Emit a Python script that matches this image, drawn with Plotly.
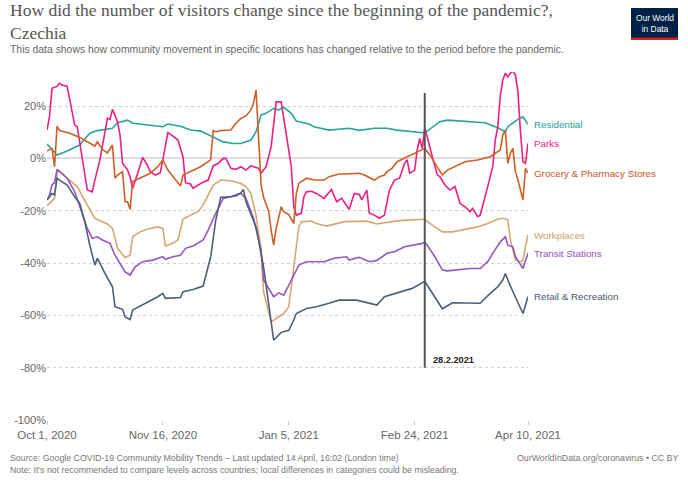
import pandas as pd
import plotly.graph_objects as go

START = pd.Timestamp("2020-10-01")

# ---- data (days since Oct 1, 2020 ; % change vs baseline) ----
residential_days = [0,4,8,13,17,20,26,28,32,34,46,48,53,57,61,66,70,74,77,81,
                    83,85,87,90,92,94,97,99,104,106,112,120,124,130,135,139,144,149,151,156,
                    159,168,174,179,182,183,187,189,190,191]
residential_vals = [5.5,1.3,2.8,5.1,9.6,10.6,11.5,13.6,14.6,13.4,12.1,13.1,12.3,10.8,10.4,8.0,6.3,5.7,5.7,7.0,
                    10.2,16.6,17.2,19.1,18.5,19.5,17.2,14.3,13.1,12.1,10.8,11.5,10.7,11.5,11.5,10.8,10.4,9.8,10.4,14.0,
                    14.6,14.0,13.6,11.7,10.2,12.1,14.9,15.9,14.4,13.0]

parks_days = [0,1,2,4,5,6,8,9,11,12,14,16,18,19,21,24,25,26,28,29,
              30,32,33,34,36,38,40,41,43,45,46,48,50,52,54,55,57,58,61,64,
              66,68,70,71,73,75,77,79,81,84,85,87,89,91,93,94,95,97,98,99,
              101,102,103,105,107,110,113,115,117,120,122,124,125,127,128,130,132,134,136,138,
              140,142,143,144,146,147,148,149,150,151,153,155,156,158,160,162,164,166,168,169,
              171,172,175,177,178,179,180,181,182,183,184,185,186,187,188,189,190,191]
parks_vals = [10.8,15.9,26.8,27.5,28.7,28.0,27.6,22.3,12.7,12.1,0.6,-12.1,-12.8,-8.3,-0.7,15.3,14.9,18.7,14.0,8.9,
              -1.9,-4.5,-7.0,-11.5,-5.7,0.4,-2.9,-5.1,-6.4,-5.5,-0.6,9.8,8.5,7.0,0.6,-9.3,-9.8,-11.5,-9.6,-8.3,
              -2.9,-1.9,0,0,-3.8,-4.2,-3.2,-4.5,-2.9,-3.8,-5.7,-3.2,4.4,21.6,21.6,15.3,10.2,-3.2,-18.5,-21.7,
              -21.0,-14.7,-12.8,-12.6,-13.4,-15.3,-11.9,-16.6,-15.3,-19.5,-13.4,-13.8,-15.9,-12.1,-21.0,-21.7,-22.9,-21.7,-12.1,-8.3,
              -7.6,-1.9,-0.5,-5.7,-4.5,3.2,7.6,3.8,11.5,8.3,0.6,-6.4,-7.0,-10.2,-12.1,-10.8,-17.2,-18.5,-20.4,-19.1,
              -22.3,-21.7,-10.8,-3.2,7.0,12,24,30.0,32.5,31.2,32.5,33.4,31.8,25.5,10.2,-1.3,-1.9,5.7]

grocery_days = [0,1,2,3,4,5,9,13,17,19,20,22,24,26,27,28,30,31,32,33,
                34,37,41,44,46,48,50,53,54,57,61,65,66,67,69,73,75,77,79,81,
                82,83,84,85,86,88,89,90,91,93,94,96,98,99,100,103,106,110,112,116,
                119,124,126,130,132,134,135,137,139,143,146,149,150,152,154,157,159,163,166,171,
                176,180,181,182,183,184,185,186,187,189,190,191]
grocery_vals = [2.9,3.5,3.8,-3.2,12.3,10.6,9.6,8.0,5.7,4.7,6.3,3.4,2.1,5.1,-7.6,-6.4,-5.1,-16.6,-16.6,-19.5,
                -8.9,-7.6,-5.7,-3.2,-0.6,-4.5,-7.0,-10.6,-6.4,-5.1,-3.2,-0.6,10.6,10.2,10.6,10.8,13.4,15.3,16.2,18.5,
                21.0,26.1,8.0,-10.0,-15.0,-20.0,-27.4,-33.2,-26.8,-18.5,-20.4,-21.5,-24.9,-13.4,-9.6,-7.6,-8.3,-8.3,-7.0,-6.0,
                -6.0,-5.7,-6.4,-8.3,-7.0,-6.4,-5.1,-3.8,-1.3,0.6,1.9,3.2,3.8,1.3,-1.9,-6.4,-4.5,-2.6,-1.3,-0.6,
                0.6,3.2,8.9,10.8,-1.9,1.9,3.8,-5.1,-8.3,-15.9,-3.8,-5.7]

workplaces_days = [0,3,4,5,8,12,16,19,24,26,28,31,33,34,37,40,44,46,47,50,
                   52,54,57,60,62,64,66,69,73,77,79,81,83,85,86,89,91,94,96,97,
                   99,100,101,105,107,111,118,127,131,139,143,150,153,157,161,165,171,175,179,181,
                   183,184,185,186,188,189,190,191]
workplaces_vals = [-18.2,-15.3,-5.2,-4.8,-7.6,-10.8,-17.9,-22.9,-25.1,-26.8,-34.4,-37.9,-37.0,-30.0,-28.1,-27.0,-26.2,-26.8,-33.5,-32.5,
                   -31.2,-23.3,-21.7,-20.4,-17.9,-14.0,-10.2,-8.3,-8.6,-9.6,-10.8,-13.4,-21.7,-35.1,-51.0,-62.5,-61.2,-59.3,-56.7,-49.1,
                   -33.8,-26.2,-24.2,-24.0,-24.9,-25.9,-24.2,-24.0,-25.1,-23.9,-23.6,-23.3,-25.5,-28.1,-28.1,-27.4,-26.2,-24.9,-23.3,-22.9,
                   -23.5,-31.2,-35.5,-38.9,-39.5,-39.0,-33.8,-29.3]

transit_days = [0,1,2,3,4,5,8,11,13,16,18,20,22,25,27,29,31,33,35,38,
                42,46,47,50,53,55,58,62,64,67,70,73,75,77,79,82,85,86,90,92,
                94,96,99,100,103,110,114,119,120,124,128,131,135,138,142,146,149,150,151,154,
                157,159,164,168,172,175,177,180,182,183,185,186,189,191]
transit_vals = [-15.9,-14.0,-10.2,-9.3,-4.2,-5.1,-7.6,-12.8,-18.5,-26.8,-30.6,-30.0,-31.2,-32.5,-37.0,-40.2,-43.4,-44.6,-41.5,-39.5,
                -38.9,-37.6,-38.6,-37.6,-37.0,-34.4,-33.5,-31.2,-27.4,-21.0,-15.3,-14.7,-14.4,-13.4,-15.3,-22.9,-35.1,-46.5,-52.9,-51.4,
                -52.3,-48.5,-42.7,-40.8,-39.5,-39.5,-38.2,-37.6,-38.9,-37.8,-39.5,-39.0,-36.3,-35.7,-33.8,-33.2,-32.5,-32.0,-33.2,-37.6,
                -42.7,-43.0,-42.5,-42.1,-42.1,-39.5,-36.3,-31.9,-30.0,-33.2,-33.8,-37.6,-42.1,-36.3]

retail_days = [0,1,2,3,4,5,8,11,13,15,17,19,20,23,26,27,30,31,33,34,
               37,40,44,46,47,53,54,58,62,65,67,69,73,77,78,79,83,86,90,93,
               96,98,99,103,107,112,116,123,128,131,134,140,145,150,153,157,161,172,176,179,
               181,182,184,186,189,191]
retail_vals = [-15.9,-14.7,-13.4,-14.0,-7.6,-8.3,-10.2,-14.7,-17.2,-24.2,-33.2,-40.8,-38.2,-44.0,-49.1,-56.7,-57.7,-60.6,-61.6,-58.0,
               -56.5,-54.8,-52.9,-51.6,-53.5,-53.2,-51.0,-50.1,-48.8,-37.6,-23.6,-14.9,-14.7,-13.2,-11.9,-16.6,-26.2,-41.5,-69.5,-66.5,
               -65.7,-61.8,-59.3,-57.4,-56.7,-55.4,-54.2,-54.2,-55.4,-56.1,-52.9,-51.0,-49.7,-47.0,-51.6,-57.5,-55.2,-55.4,-51.6,-49.1,
               -46.5,-44.0,-48.8,-52.9,-59.3,-52.9]

series_names = ["Residential", "Parks", "Grocery & Pharmacy Stores",
                "Workplaces", "Transit Stations", "Retail & Recreation"]
series_days = [residential_days, parks_days, grocery_days, workplaces_days, transit_days, retail_days]
series_vals = [residential_vals, parks_vals, grocery_vals, workplaces_vals, transit_vals, retail_vals]
series_colors = ["#26A69A", "#EE1E82", "#CF5F26", "#D8A672", "#9656BF", "#4F5E78"]
label_colors = ["#21A395", "#EC1A80", "#C9571D", "#D3A06A", "#9150BD", "#4A5872"]

x_tickvals = ["2020-10-01", "2020-11-16", "2021-01-05", "2021-02-24", "2021-04-10"]
x_ticktext = ["Oct 1, 2020", "Nov 16, 2020", "Jan 5, 2021", "Feb 24, 2021", "Apr 10, 2021"]
y_tickvals = [-100, -80, -60, -40, -20, 0, 20]
y_ticktext = ["-100%", "-80%", "-60%", "-40%", "-20%", "0%", "20%"]

marker_date = "2021-02-28"
marker_label = "28.2.2021"

title_text = "How did the number of visitors change since the beginning of the pandemic?,<br>Czechia"
subtitle = "This data shows how community movement in specific locations has changed relative to the period before the pandemic."
source = "Source: Google COVID-19 Community Mobility Trends – Last updated 14 April, 16:02 (London time)"
note = "Note: It's not recommended to compare levels across countries; local differences in categories could be misleading."
credit = "OurWorldInData.org/coronavirus • CC BY"

# ---- layout geometry ----
W, H = 688, 482
ML, MR, MT, MB = 47, 160, 72, 62
PW, PH = W - ML - MR, H - MT - MB


def pxx(px):
    return (px - ML) / PW


def pxy(py):
    return (H - MB - py) / PH


SANS = "Liberation Sans, Arial, sans-serif"
SERIF = "Liberation Serif, Times New Roman, serif"

fig = go.Figure()
for name, d, v, c in zip(series_names, series_days, series_vals, series_colors):
    assert len(d) == len(v), name
    dates = START + pd.to_timedelta(d, unit="D")
    fig.add_trace(go.Scatter(x=dates, y=v, mode="lines", name=name,
                             line=dict(color=c, width=1.6), hoverinfo="skip",
                             showlegend=False))

annotations = []
for name, d, v, c in zip(series_names, series_days, series_vals, label_colors):
    annotations.append(dict(x=START + pd.Timedelta(days=d[-1]), y=v[-1], xref="x", yref="y",
                            text=name, showarrow=False, xanchor="left", yanchor="middle",
                            xshift=4, font=dict(family=SANS, size=9.8, color=c)))

annotations.append(dict(x=marker_date, y=-80, xref="x", yref="y", text="<b>" + marker_label + "</b>",
                        showarrow=False, xanchor="left", yanchor="bottom", xshift=6, yshift=1,
                        font=dict(family=SANS, size=9.2, color="#222")))

annotations += [
    dict(x=pxx(8), y=pxy(21.5), xref="paper", yref="paper", text=title_text, showarrow=False,
         xanchor="left", yanchor="middle", align="left",
         font=dict(family=SERIF, size=17.5, color="#555")),
    dict(x=pxx(8), y=pxy(49), xref="paper", yref="paper", text=subtitle, showarrow=False,
         xanchor="left", yanchor="middle", font=dict(family=SANS, size=10.4, color="#666")),
    dict(x=pxx(8), y=pxy(458), xref="paper", yref="paper", text=source, showarrow=False,
         xanchor="left", yanchor="middle", font=dict(family=SANS, size=8.8, color="#777")),
    dict(x=pxx(8), y=pxy(470), xref="paper", yref="paper", text=note, showarrow=False,
         xanchor="left", yanchor="middle", font=dict(family=SANS, size=8.8, color="#777")),
    dict(x=pxx(680), y=pxy(458), xref="paper", yref="paper", text=credit, showarrow=False,
         xanchor="right", yanchor="middle", font=dict(family=SANS, size=8.8, color="#777")),
    dict(x=pxx(654.5), y=pxy(24), xref="paper", yref="paper", text="Our World<br>in Data", showarrow=False,
         xanchor="center", yanchor="middle", align="center",
         font=dict(family=SANS, size=8.4, color="white")),
]

shapes = [
    dict(type="line", xref="x", yref="y", x0=marker_date, x1=marker_date, y0=-80, y1=25,
         line=dict(color="#555", width=2), layer="above"),
    dict(type="rect", xref="paper", yref="paper", x0=pxx(631), x1=pxx(678), y0=pxy(40), y1=pxy(8),
         fillcolor="#002147", line=dict(width=0), layer="below"),
    dict(type="rect", xref="paper", yref="paper", x0=pxx(631), x1=pxx(678), y0=pxy(40), y1=pxy(37.5),
         fillcolor="#CE261E", line=dict(width=0), layer="below"),
]

fig.update_layout(
    width=W, height=H, autosize=False,
    margin=dict(l=ML, r=MR, t=MT, b=MB, pad=0),
    paper_bgcolor="white", plot_bgcolor="white",
    font=dict(family=SANS, color="#666"),
    annotations=annotations, shapes=shapes,
    xaxis=dict(type="date", range=["2020-10-01", "2021-04-10"],
               tickvals=x_tickvals, ticktext=x_ticktext,
               tickfont=dict(family=SANS, size=11.5, color="#666"),
               showgrid=False, zeroline=False, showline=False,
               ticks="outside", ticklen=4, tickcolor="#ccc", fixedrange=True),
    yaxis=dict(range=[-100, 33], tickvals=y_tickvals, ticktext=y_ticktext,
               tickfont=dict(family=SANS, size=11, color="#666"),
               showgrid=True, gridcolor="#d0d0d0", griddash="dot", gridwidth=1,
               zeroline=True, zerolinecolor="#ddd", zerolinewidth=2,
               showline=False, ticks="", fixedrange=True),
)

fig.write_html("out.html", config={"displayModeBar": False},
               post_script="document.body.style.margin='0px';document.body.style.overflow='hidden';")
